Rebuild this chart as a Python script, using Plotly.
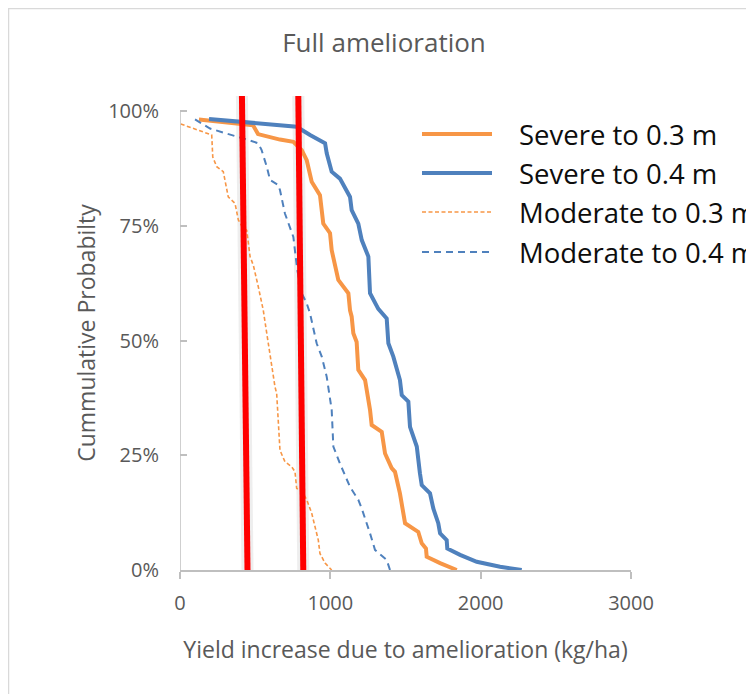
import plotly.graph_objects as go

# ---- data ----
series_names = ["Severe to 0.3 m", "Severe to 0.4 m", "Moderate to 0.3 m", "Moderate to 0.4 m"]

# Severe to 0.3 m
s03_x = [126, 486, 519, 665, 754, 810, 843, 865, 876, 931, 953, 998, 1009, 1053, 1120, 1131, 1142, 1153,
         1175, 1186, 1231, 1264, 1275, 1342, 1364, 1408, 1430, 1463, 1485, 1497, 1585, 1608, 1636, 1641,
         1730, 1841]
s03_y = [98.2, 96.9, 95.0, 93.8, 93.3, 91.5, 89.3, 85.7, 84.6, 81.7, 75.5, 73.4, 69.7, 63.2, 60.3, 56.6,
         55.2, 51.6, 49.7, 43.6, 41.4, 34.9, 31.6, 30.1, 25.4, 22.2, 21.4, 16.7, 12.4, 10.2, 8.3, 5.8, 4.7,
         2.9, 1.5, 0.0]
# Severe to 0.4 m
s04_x = [193, 776, 865, 965, 976, 1009, 1064, 1131, 1142, 1186, 1209, 1253, 1264, 1319, 1375, 1386, 1419,
         1463, 1475, 1519, 1530, 1575, 1596, 1608, 1663, 1685, 1718, 1730, 1774, 1778, 1863, 1974, 2129,
         2273]
s04_y = [98.3, 96.6, 94.8, 93.0, 90.8, 86.8, 85.3, 81.3, 78.4, 75.5, 71.9, 68.3, 60.3, 56.9, 54.8, 49.4,
         46.5, 41.4, 38.1, 36.7, 31.2, 26.9, 21.1, 18.5, 16.7, 13.4, 10.2, 8.0, 6.5, 4.7, 3.3, 1.8, 0.7, 0.0]
# Moderate to 0.3 m
m03_x = [5, 111, 211, 218, 244, 288, 321, 366, 388, 410, 444, 466, 488, 521, 554, 577, 599, 632, 643, 654,
         665, 698, 743, 765, 776, 810, 843, 876, 898, 920, 931, 965, 1009]
m03_y = [97.2, 96.0, 94.8, 90.0, 87.9, 86.8, 81.3, 79.9, 76.3, 75.1, 74.0, 68.3, 66.4, 61.7, 56.6, 51.6,
         46.5, 39.9, 38.5, 31.2, 26.1, 23.6, 22.5, 21.4, 17.8, 17.1, 15.3, 12.4, 9.4, 6.5, 3.6, 1.5, 0.0]
# Moderate to 0.4 m
m04_x = [100, 200, 444, 521, 543, 577, 599, 654, 665, 698, 754, 772, 780, 810, 843, 865, 909, 943, 976,
         1009, 1020, 1064, 1131, 1186, 1209, 1264, 1297, 1375, 1397]
m04_y = [98.2, 96.2, 93.8, 93.0, 91.5, 87.9, 85.0, 83.9, 82.8, 77.7, 72.6, 68.3, 65.4, 60.3, 58.1, 55.9,
         49.4, 46.5, 42.1, 34.9, 26.9, 23.2, 18.1, 15.3, 13.4, 8.0, 4.4, 2.2, 0.0]
# red reference lines (x at top, x at bottom)
ref1_x = [412, 449]
ref2_x = [787, 820]
ref_y = [103.3, 0]

x_ticks = [0, 1000, 2000, 3000]
y_ticks = [0, 25, 50, 75, 100]

ORANGE = "#F79646"
BLUE = "#4F81BD"
GRAY = "#595959"
AXIS = "#BFBFBF"
FONT = "Open Sans"

# figure geometry (page has an 8px body margin)
W, H = 746, 686
ML, MR, MT, MB = 172, 123, 88, 124
PW, PH = W - ML - MR, H - MT - MB

def px2paper_x(fx):
    return (fx - ML) / PW

def px2paper_y(fy):
    return (H - MB - fy) / PH

styles = [dict(color=ORANGE, width=4), dict(color=BLUE, width=4),
          dict(color=ORANGE, width=1.6, dash="4px,2.5px"), dict(color=BLUE, width=2, dash="7px,5px")]
xs = [s03_x, s04_x, m03_x, m04_x]
ys = [s03_y, s04_y, m03_y, m04_y]

fig = go.Figure()

# soft halo behind the red lines
for rx in (ref1_x, ref2_x):
    fig.add_trace(go.Scatter(x=rx, y=ref_y, mode="lines", showlegend=False, hoverinfo="skip",
                             line=dict(color="rgba(200,200,200,0.3)", width=12)))

for name, x, y, st in zip(series_names, xs, ys, styles):
    fig.add_trace(go.Scatter(x=x, y=y, mode="lines", name=name, showlegend=False, line=st))

for rx in (ref1_x, ref2_x):
    fig.add_trace(go.Scatter(x=rx, y=ref_y, mode="lines", showlegend=False, hoverinfo="skip",
                             line=dict(color="#FF0000", width=6)))

# legend (drawn to match the original's long line samples)
shapes = [
    # y axis line (only up to 100%)
    dict(type="line", xref="x", yref="y", x0=0, x1=0, y0=0, y1=100,
         line=dict(color=AXIS, width=1.5)),
    # chart-area border
    dict(type="rect", xref="paper", yref="paper",
         x0=px2paper_x(0.5), x1=px2paper_x(W + 20), y0=px2paper_y(H + 20), y1=px2paper_y(0.5),
         line=dict(color="#D9D9D9", width=1.5), fillcolor="rgba(0,0,0,0)", layer="below"),
]
annotations = []
row_y = [126, 165, 204, 244]
for name, st, ry in zip(series_names, styles, row_y):
    shapes.append(dict(type="line", xref="paper", yref="paper",
                       x0=px2paper_x(414), x1=px2paper_x(484), y0=px2paper_y(ry), y1=px2paper_y(ry),
                       line=st))
    annotations.append(dict(text=name, xref="paper", yref="paper", x=px2paper_x(509), y=px2paper_y(ry),
                            xanchor="left", yanchor="middle", showarrow=False,
                            font=dict(size=27.5, color="#0D0D0D", family=FONT)))

fig.update_layout(
    width=W, height=H,
    margin=dict(l=ML, r=MR, t=MT, b=MB),
    paper_bgcolor="white", plot_bgcolor="white",
    font=dict(family=FONT, color=GRAY),
    showlegend=False,
    title=dict(text="Full amelioration", font=dict(size=26, color=GRAY, family=FONT),
               xref="container", yref="container", x=376 / W, y=1 - 35 / H,
               xanchor="center", yanchor="middle"),
    xaxis=dict(range=[0, 3000], tickvals=x_ticks, ticktext=[str(v) for v in x_ticks],
               showgrid=False, zeroline=False, showline=True, linecolor=AXIS, linewidth=1.5,
               ticks="outside", ticklen=7, tickcolor=AXIS, tickwidth=1.5,
               tickfont=dict(size=20, color=GRAY), ticklabelstandoff=7,
               title=dict(text="Yield increase due to amelioration (kg/ha)",
                          font=dict(size=23, color=GRAY), standoff=27)),
    yaxis=dict(range=[0, 103.3], tickvals=y_ticks, ticktext=[f"{v}%" for v in y_ticks],
               showgrid=False, zeroline=False, showline=False,
               ticks="inside", ticklen=7, tickcolor=AXIS, tickwidth=1.5,
               tickfont=dict(size=20, color=GRAY), ticklabelstandoff=20,
               title=dict(text="Cummulative Probabilty", font=dict(size=23, color=GRAY), standoff=6)),
    shapes=shapes,
    annotations=annotations,
)

fig.write_html("out.html")
